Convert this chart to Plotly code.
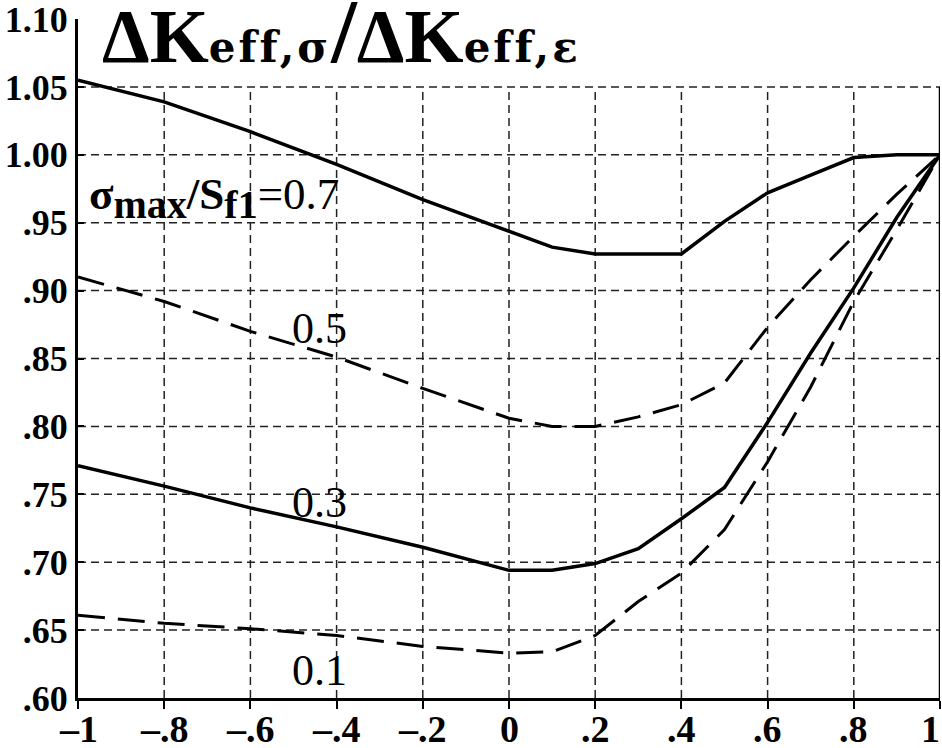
import plotly.graph_objects as go

# Stress ratio (x) sampled along every curve
x_vals = [-1.0, -0.8, -0.6, -0.4, -0.2, 0.0, 0.1, 0.2, 0.3, 0.4, 0.5, 0.6, 0.7, 0.8, 0.9, 1.0]

# dK_eff,sigma / dK_eff,epsilon for each sigma_max/S_f1 level
ratio_07 = [1.055, 1.039, 1.017, 0.993, 0.967, 0.944, 0.932, 0.927, 0.927, 0.927, 0.951, 0.972, 0.985, 0.998, 1.000, 1.000]
ratio_05 = [0.910, 0.892, 0.870, 0.851, 0.828, 0.806, 0.800, 0.800, 0.807, 0.816, 0.832, 0.873, 0.908, 0.940, 0.971, 1.000]
ratio_03 = [0.771, 0.756, 0.740, 0.726, 0.711, 0.694, 0.694, 0.699, 0.710, 0.732, 0.755, 0.803, 0.854, 0.902, 0.954, 1.000]
ratio_01 = [0.661, 0.655, 0.651, 0.646, 0.638, 0.633, 0.634, 0.646, 0.671, 0.692, 0.724, 0.774, 0.829, 0.892, 0.945, 1.000]

series = [
    (ratio_07, "solid"),
    (ratio_05, "dashed"),
    (ratio_03, "solid"),
    (ratio_01, "dashed"),
]

# Axis ticks and labels
x_ticks = [-1.0, -0.8, -0.6, -0.4, -0.2, 0.0, 0.2, 0.4, 0.6, 0.8, 1.0]
x_tick_text = ["\u20131", "\u2013.8", "\u2013.6", "\u2013.4", "\u2013.2", "0", ".2", ".4", ".6", ".8", "1"]
y_ticks = [0.60, 0.65, 0.70, 0.75, 0.80, 0.85, 0.90, 0.95, 1.00, 1.05, 1.10]
y_tick_text = [".60", ".65", ".70", ".75", ".80", ".85", ".90", ".95", "1.00", "1.05", "1.10"]

SERIF = "Liberation Serif"
GRID_TOP = 1.05

fig = go.Figure()

for values, style in series:
    if style == "solid":
        line = dict(color="black", width=3.5)
    else:
        line = dict(color="black", width=3, dash="27px,13px")
    fig.add_trace(go.Scatter(x=x_vals, y=values, mode="lines", line=line,
                             showlegend=False, hoverinfo="skip"))

# Dashed grid, stopping at the 1.05 level
grid_line = dict(color="#222222", width=1.5, dash="8px,5px")
for yv in y_ticks:
    if 0.60 < yv <= GRID_TOP:
        fig.add_shape(type="line", xref="x", yref="y", x0=x_ticks[0], x1=x_ticks[-1],
                      y0=yv, y1=yv, line=grid_line, layer="below")
for xv in x_ticks[1:-1]:
    fig.add_shape(type="line", xref="x", yref="y", x0=xv, x1=xv,
                  y0=y_ticks[0], y1=GRID_TOP, line=grid_line, layer="below")
# Right-hand frame edge
fig.add_shape(type="line", xref="x", yref="y", x0=x_ticks[-1], x1=x_ticks[-1],
              y0=y_ticks[0], y1=GRID_TOP, line=dict(color="black", width=2.5))

# x tick labels, placed under each tick; the last one is kept inside the page edge
for i, (xv, label) in enumerate(zip(x_ticks, x_tick_text)):
    last = i == len(x_ticks) - 1
    fig.add_annotation(
        xref="x", yref="paper", x=xv, y=0, yshift=-31, xshift=2 if last else 0,
        xanchor="right" if last else "center", yanchor="middle",
        text=label, showarrow=False,
        font=dict(family=SERIF, size=38, color="black", weight="bold"),
    )

# Title formula
sub = "<span style='font-family:DejaVu Serif;font-size:42px;letter-spacing:3px'>{}</span>"
slash = "<span style='font-size:92px'>/</span>"
fig.add_annotation(
    xref="x", yref="y", x=-0.95, y=1.0915, xanchor="left", yanchor="middle",
    text="<b>\u0394K" + sub.format("eff,\u03c3") + slash + "\u0394K" + sub.format("eff,\u03b5") + "</b>",
    font=dict(family=SERIF, size=76, color="black"), showarrow=False,
)

# Curve labels
lsub = "<sub><span style='font-size:40px'>{}</span></sub>"
fig.add_annotation(
    xref="x", yref="y", x=-0.978, y=0.968, xanchor="left", yanchor="middle",
    text="<b>\u03c3" + lsub.format("max") + "/S" + lsub.format("f1") + "</b>=0.7",
    font=dict(family=SERIF, size=45, color="black"), showarrow=False,
)
for label, yv in [("0.5", 0.872), ("0.3", 0.744), ("0.1", 0.620)]:
    fig.add_annotation(xref="x", yref="y", x=-0.44, y=yv, text=label,
                       font=dict(family=SERIF, size=44, color="black"), showarrow=False)

fig.update_layout(
    width=942, height=748,
    margin=dict(l=78, r=2, t=19, b=50, autoexpand=False),
    paper_bgcolor="white", plot_bgcolor="white",
    xaxis=dict(range=[-1, 1], tickvals=x_ticks, showticklabels=False, automargin=False,
               showgrid=False, zeroline=False, showline=True, linecolor="black", linewidth=3,
               ticks="outside", ticklen=8, tickwidth=2, tickcolor="black"),
    yaxis=dict(range=[0.6, 1.1], tickvals=y_ticks, ticktext=y_tick_text, automargin=False,
               showgrid=False, zeroline=False, showline=True, linecolor="black", linewidth=3,
               ticks="inside", ticklen=6, tickwidth=2, tickcolor="black",
               ticklabeloverflow="allow",
               tickfont=dict(family=SERIF, size=36, color="black", weight="bold")),
)

fig.write_html("out.html")
